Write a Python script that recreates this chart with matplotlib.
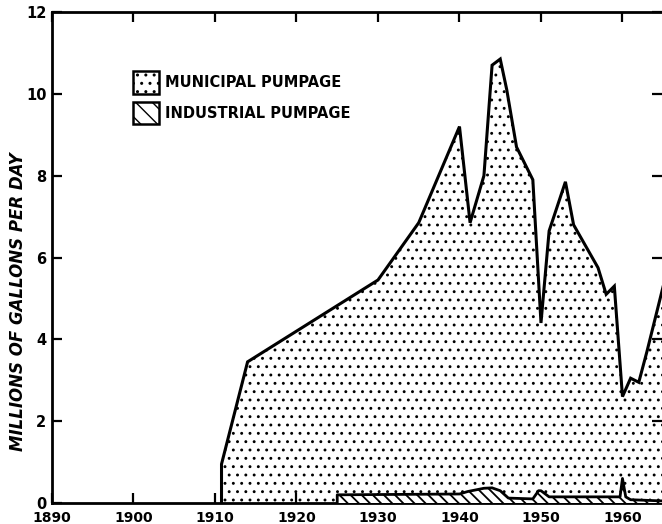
import matplotlib
matplotlib.use("Agg")
import matplotlib.pyplot as plt
from matplotlib.patches import Patch

# ---- data ----
muni_years = [1910.8, 1910.8, 1914, 1930, 1935, 1940, 1941.3, 1943, 1944, 1945, 1945.8,
              1947, 1949, 1950, 1951, 1953, 1954, 1957, 1958, 1959, 1960, 1961, 1962,
              1963, 1964, 1965]
muni_values = [0, 0.95, 3.45, 5.45, 6.85, 9.2, 6.85, 8.0, 10.7, 10.85, 10.1,
               8.7, 7.9, 4.4, 6.65, 7.85, 6.8, 5.75, 5.1, 5.3, 2.6, 3.05, 2.95,
               3.7, 4.5, 5.3]

ind_years = [1925, 1925, 1940, 1941, 1943, 1944, 1945, 1946, 1949, 1949.7, 1950,
             1951, 1959.7, 1960, 1960.4, 1961, 1965]
ind_values = [0, 0.2, 0.22, 0.28, 0.36, 0.37, 0.3, 0.12, 0.1, 0.3, 0.3,
              0.15, 0.15, 0.6, 0.15, 0.08, 0.05]

x_ticks = [1890, 1900, 1910, 1920, 1930, 1940, 1950, 1960]
y_ticks = [0, 2, 4, 6, 8, 10, 12]
legend_labels = ["MUNICIPAL PUMPAGE", "INDUSTRIAL PUMPAGE"]
y_label = "MILLIONS OF GALLONS PER DAY"

FONT = ["Liberation Sans Narrow", "DejaVu Sans"]
plt.rcParams["font.family"] = FONT

fig = plt.figure(figsize=(6.62, 5.24), dpi=100)
ax = fig.add_axes([52 / 662, 1 - 503 / 524, 1 - 52 / 662, (503 - 12) / 524])

# municipal stipple area
plt.rcParams["hatch.linewidth"] = 0.9
ax.fill_between(muni_years, 0, muni_values, facecolor="white", edgecolor="black",
                hatch="..", linewidth=0)
ax.plot(muni_years, muni_values, color="black", lw=2.2, solid_joinstyle="miter")

# industrial hatched band
plt.rcParams["hatch.linewidth"] = 1.3
ax.fill_between(ind_years, 0, ind_values, facecolor="white", edgecolor="black",
                hatch="\\\\\\", linewidth=0, zorder=3)
ax.plot(ind_years, ind_values, color="black", lw=2.0, zorder=4)

ax.set_xlim(1890, 1964.85)
ax.set_ylim(0, 12)
ax.set_xticks(x_ticks)
ax.set_yticks(y_ticks)
ax.set_xticklabels([str(t) for t in x_ticks], fontsize=10, fontweight="bold")
ax.set_yticklabels([str(t) for t in y_ticks], fontsize=10.5, fontweight="bold")
ax.tick_params(direction="in", length=7, width=1.6, top=True, right=True, pad=3)
ax.tick_params(axis="x", pad=6)
ax.tick_params(axis="y", pad=4)
for s in ax.spines.values():
    s.set_linewidth(2.0)
ax.spines["right"].set_visible(False)

fig.text(18 / 662, 1 - 302 / 524, y_label, rotation=90, ha="center", va="center",
         fontsize=12, fontweight="bold", fontstyle="italic")

plt.rcParams["hatch.linewidth"] = 1.0
handles = [Patch(facecolor="white", edgecolor="black", hatch="..", linewidth=1.8),
           Patch(facecolor="white", edgecolor="black", hatch="\\\\", linewidth=1.8)]
leg = ax.legend(handles, legend_labels, loc="upper left",
                bbox_to_anchor=(68 / 610, 1 - 46 / 491), frameon=False,
                handlelength=1.75, handleheight=2.0, handletextpad=0.45,
                labelspacing=0.55, prop={"size": 10.5, "weight": "bold"})

fig.savefig("out.png", dpi=100)
